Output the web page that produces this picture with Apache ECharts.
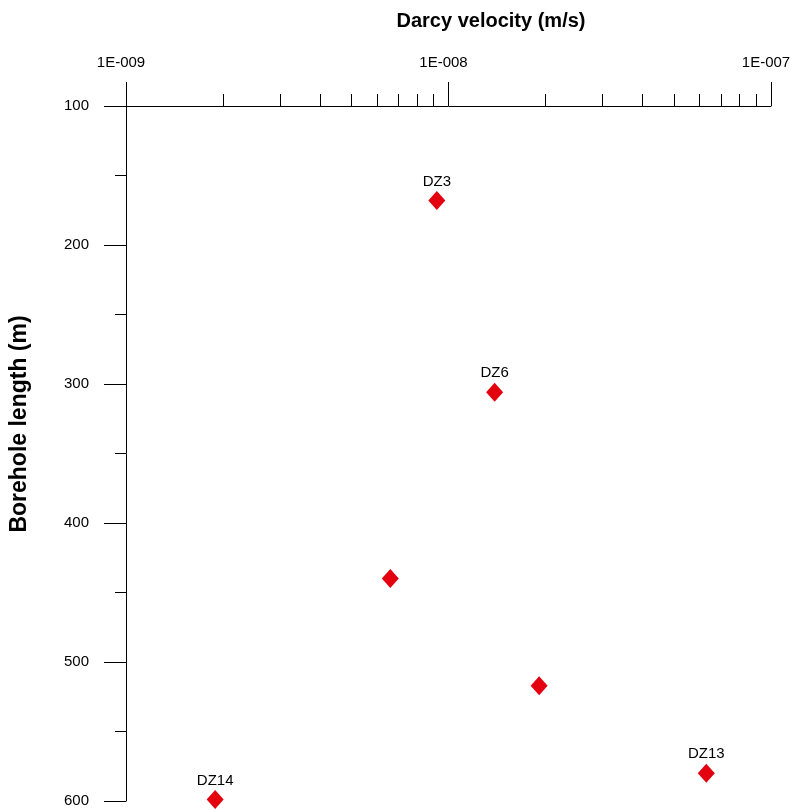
<!DOCTYPE html>
<html>
<head>
<meta charset="utf-8">
<script src="https://cdn.jsdelivr.net/npm/echarts@6/dist/echarts.min.js"></script>
<style>
  html, body { margin: 0; padding: 0; background: #fff; }
  #chart { width: 792px; height: 810px; }
</style>
</head>
<body>
<div id="chart"></div>
<script>
// 数据
const names = ['DZ3', 'DZ6', '', '', 'DZ13', 'DZ14'];
const velocity = [9.2e-9, 1.39e-8, 6.6e-9, 1.91e-8, 6.3e-8, 1.89e-9];
const depth = [168, 306, 440, 517, 580, 599];
const majorTicks = [1e-9, 1e-8, 1e-7];
const minorTicks = [2e-9, 3e-9, 4e-9, 5e-9, 6e-9, 7e-9, 8e-9, 9e-9,
  2e-8, 3e-8, 4e-8, 5e-8, 6e-8, 7e-8, 8e-8, 9e-8];
const majorLabels = ['1E-009', '1E-008', '1E-007'];

function creatChart(){
  const chart = echarts.init(document.getElementById('chart'));
  const font = 'Arial, "Liberation Sans", sans-serif';
  const points = velocity.map((v, i) => ({ name: names[i], value: [v, depth[i]] }));
  const option = {
    animation: false,
    title: {
      text: 'Darcy velocity (m/s)',
      left: 486,
      top: 6,
      textAlign: 'center',
      textStyle: { fontFamily: font, fontSize: 20, fontWeight: 'bold', color: '#000' }
    },
    grid: { left: 126, right: 21, top: 106, bottom: 9, containLabel: false, outerBoundsMode: 'none' },
    xAxis: [
      {
        type: 'log',
        position: 'top',
        min: 1e-9,
        max: 1e-7,
        logBase: 10,
        axisLine: { show: true, lineStyle: { color: '#000', width: 1 } },
        axisTick: { show: true, inside: false, length: 24, customValues: majorTicks, lineStyle: { color: '#000' } },
        axisLabel: {
          show: true, margin: 36, customValues: majorTicks,
          fontFamily: font, fontSize: 15, color: '#000', padding: [0, 10, 0, 0],
          formatter: function (v) {
            const idx = majorTicks.findIndex(t => Math.abs(t - v) / t < 1e-6);
            return idx >= 0 ? majorLabels[idx] : '';
          }
        },
        splitLine: { show: false }
      },
      {
        type: 'log',
        position: 'top',
        min: 1e-9,
        max: 1e-7,
        logBase: 10,
        axisLine: { show: false },
        axisTick: { show: true, inside: false, length: 12, customValues: minorTicks, lineStyle: { color: '#000' } },
        axisLabel: { show: false },
        splitLine: { show: false }
      }
    ],
    yAxis: {
      type: 'value',
      inverse: true,
      min: 100,
      max: 600,
      interval: 100,
      axisLine: { show: true, lineStyle: { color: '#000', width: 1 } },
      axisTick: { show: true, inside: false, length: 22, lineStyle: { color: '#000' } },
      minorTick: { show: true, splitNumber: 2, length: 11, lineStyle: { color: '#000' } },
      axisLabel: { margin: 37, fontFamily: font, fontSize: 15, color: '#000', padding: [0, 0, 4, 0] },
      splitLine: { show: false }
    },
    graphic: [
      {
        type: 'text',
        x: 20,
        y: 424,
        rotation: Math.PI / 2,
        style: {
          text: 'Borehole length (m)',
          fontFamily: font, fontSize: 23, fontWeight: 'bold', fill: '#000',
          align: 'center', verticalAlign: 'middle'
        }
      }
    ],
    series: [
      {
        type: 'scatter',
        xAxisIndex: 0,
        symbol: 'diamond',
        symbolSize: [17, 19],
        itemStyle: { color: '#e3000f', opacity: 1 },
        label: {
          show: true, position: 'top', distance: 2,
          formatter: '{b}', fontFamily: font, fontSize: 15, color: '#000'
        },
        data: points
      }
    ]
  };
  chart.setOption(option);
}
window.onload = creatChart;
</script>
</body>
</html>
